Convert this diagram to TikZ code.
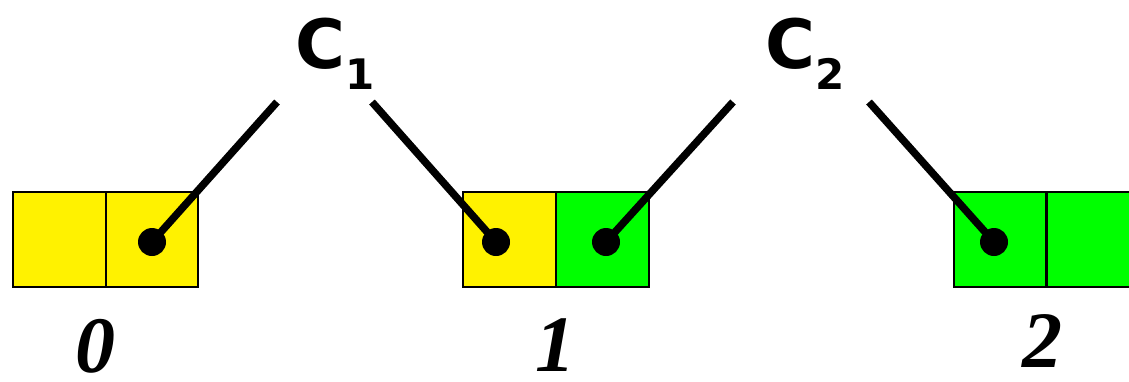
\documentclass[tikz,border=0pt]{standalone}
\usepackage{fontspec}
\usepackage{tikz}
\newfontfamily\cfont{DejaVu Sans}
\newfontfamily\numfont{Liberation Serif}

\begin{document}
\begin{tikzpicture}[
    x=1pt, y=-1pt,
    cell/.style={draw=black, line width=2pt, minimum width=92.5pt,
        minimum height=95pt, inner sep=0pt},
    oldcell/.style={cell, fill=yellow},
    newcell/.style={cell, fill=green},
    dot/.style={circle, fill=black, minimum size=28pt, inner sep=0pt},
    link/.style={line width=7.5pt},
    clabel/.style={font=\cfont\bfseries\fontsize{68}{68}\selectfont,
        inner sep=0pt, anchor=base west},
    index/.style={font=\numfont\bfseries\itshape\fontsize{80}{80}\selectfont,
        inner sep=0pt, text depth=0pt, anchor=base},
]
    \useasboundingbox (0, 0) rectangle (1129, 381);

    %% the three blocks, two cells each
    \node[oldcell] (b0l) at (59.25, 239.5) {};
    \node[oldcell] (b0r) at (151.75, 239.5) {};
    \node[oldcell] (b1l) at (509.5, 239.5) {};
    \node[newcell] (b1r) at (602.5, 239.5) {};
    \node[newcell] (b2l) at (1000, 239.5) {};
    \node[newcell] (b2r) at (1093, 239.5) {};

    %% their numbers underneath
    \node[index] (n0) at (95, 372) {0};
    \node[index] (n1) at (555, 371) {1};
    \node[index] (n2) at (1042, 367) {2};

    %% the two labels
    \node[clabel] (c1) at (295, 68)
        {C\raisebox{-21pt}{\fontsize{42}{42}\selectfont 1}};
    \node[clabel] (c2) at (765, 68)
        {C\raisebox{-21pt}{\fontsize{42}{42}\selectfont 2}};

    %% the pointers, each ending in a dot
    \node[dot] (d0) at (152, 242) {};
    \node[dot] (d1) at (496, 242) {};
    \node[dot] (d2) at (606, 242) {};
    \node[dot] (d3) at (994, 242) {};
    \coordinate (e0) at (277, 102);
    \coordinate (e1) at (372, 102);
    \coordinate (e2) at (733, 102);
    \coordinate (e3) at (869, 102);
    \draw[link] (e0) -- (d0.center);
    \draw[link] (e1) -- (d1.center);
    \draw[link] (e2) -- (d2.center);
    \draw[link] (e3) -- (d3.center);
\end{tikzpicture}
\end{document}
